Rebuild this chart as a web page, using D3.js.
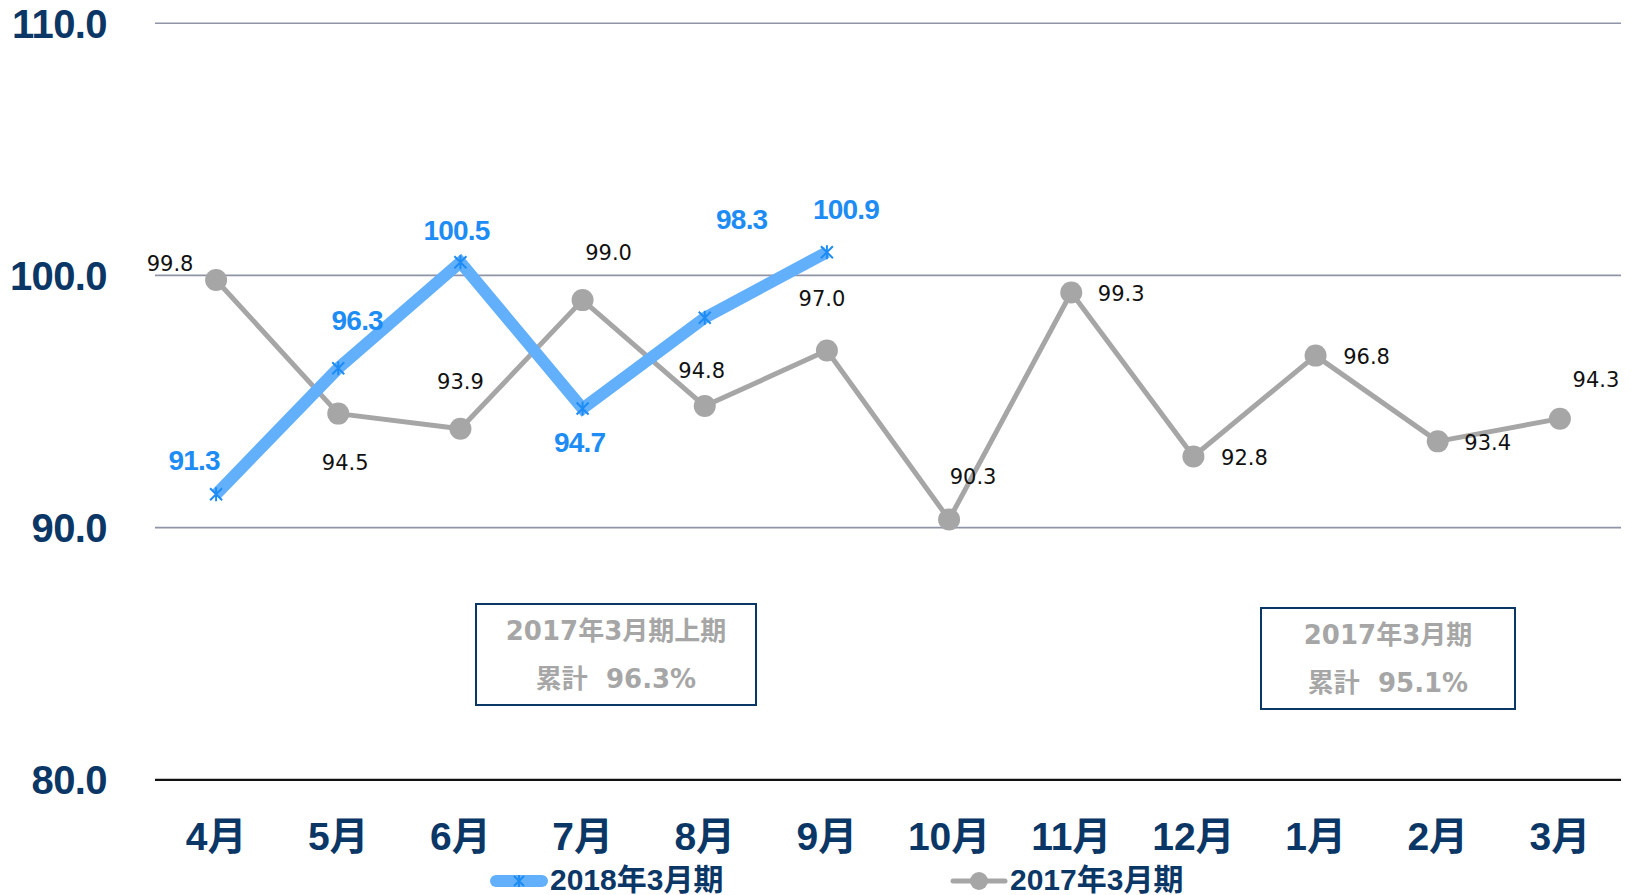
<!DOCTYPE html>
<html><head><meta charset="utf-8">
<script src="https://cdn.jsdelivr.net/npm/d3@7"></script>
<style>body{margin:0;background:#fff}svg{display:block}</style>
</head><body><svg id="c" width="1635" height="895"></svg>
<script>
const months = ["4月","5月","6月","7月","8月","9月","10月","11月","12月","1月","2月","3月"];
const series2018 = [91.3, 96.3, 100.5, 94.7, 98.3, 100.9];
const series2017 = [99.8, 94.5, 93.9, 99.0, 94.8, 97.0, 90.3, 99.3, 92.8, 96.8, 93.4, 94.3];
const yTicks = [80, 90, 100, 110];
const seriesNames = ["2018年3月期", "2017年3月期"];
const notes = [
  {lines: ["2017年3月期上期", "累計  96.3%"]},
  {lines: ["2017年3月期", "累計  95.1%"]}
];
// label offsets (px, relative to point)
const off2018 = [[-22,-34],[19,-48],[-4,-32],[-3,33],[37,-99],[19,-43]];
const off2017 = [[-46,-16],[7,49],[0,-47],[26,-47],[-3,-35],[-5,-52],[24,-43],[50,1],[51,1],[51,1],[50,1],[36,-39]];
const noteBoxes = [[476,604,280,101],[1261,608,254,101]];

const svg = d3.select("#c");
const navy = "#0b3767";
const x = d3.scaleBand().domain(months).range([155, 1621]).padding(0);
const cx = m => x(m) + x.bandwidth()/2;
const y = d3.scaleLinear().domain([80, 110]).range([779.3, 22.7]);

// gridlines
const grid = svg.append("g").attr("transform","translate(155,0)")
  .call(d3.axisLeft(y).tickValues(yTicks).tickSize(-1466).tickFormat(""));
grid.select(".domain").remove();
grid.selectAll(".tick line").attr("stroke", d => d === 80 ? "#111" : "#8f94a6")
  .attr("stroke-width", d => d === 80 ? 2.2 : 1.6);

// y labels
const ya = svg.append("g").attr("transform","translate(107,0)")
  .call(d3.axisLeft(y).tickValues(yTicks).tickSize(0).tickPadding(0).tickFormat(d3.format(".1f")));
ya.select(".domain").remove();
ya.selectAll("text").attr("fill", navy).attr("font-family","Liberation Sans, Arial, sans-serif")
  .attr("font-weight","bold").attr("font-size", 40).attr("letter-spacing", -0.6)
  .attr("text-anchor","end").attr("dy","0.36em");

// x labels
const xa = svg.append("g").attr("transform","translate(0,780)")
  .call(d3.axisBottom(x).tickSize(0).tickPadding(0));
xa.select(".domain").remove();
xa.selectAll("text").attr("fill", navy).attr("font-family","Liberation Sans, 'Noto Sans CJK JP', sans-serif")
  .attr("font-weight","bold").attr("font-size", 39).attr("y", 0).attr("dy", 70);

// 2017 line
const line = d3.line().x((d,i) => cx(months[i])).y(d => y(d));
svg.append("path").datum(series2017).attr("d", line).attr("fill","none")
  .attr("stroke","#a6a6a6").attr("stroke-width",5).attr("stroke-linejoin","round");
svg.selectAll("circle.g").data(series2017).join("circle").attr("class","g")
  .attr("cx",(d,i)=>cx(months[i])).attr("cy",d=>y(d)).attr("r",11).attr("fill","#a6a6a6");

// 2018 line
svg.append("path").datum(series2018).attr("d", line).attr("fill","none")
  .attr("stroke","#62b0fc").attr("stroke-width",12).attr("stroke-linejoin","miter");

function star(g, px, py, s) {
  const p = `M${px-s},${py-s}L${px+s},${py+s}M${px-s},${py+s}L${px+s},${py-s}M${px},${py-s-1}L${px},${py+s+1}`;
  g.append("path").attr("d", p).attr("stroke","#1e8cf5").attr("stroke-width",2).attr("fill","none");
}
const mk = svg.append("g");
series2018.forEach((d,i) => star(mk, cx(months[i]), y(d), 6));

// labels
svg.selectAll("text.l17").data(series2017).join("text").attr("class","l17")
  .attr("x",(d,i)=>cx(months[i])+off2017[i][0]).attr("y",(d,i)=>y(d)+off2017[i][1])
  .attr("text-anchor","middle").attr("dy","0.35em")
  .attr("font-family","DejaVu Sans, Verdana, sans-serif").attr("font-size",21).attr("fill","#111")
  .text(d=>d3.format(".1f")(d));
svg.selectAll("text.l18").data(series2018).join("text").attr("class","l18")
  .attr("x",(d,i)=>cx(months[i])+off2018[i][0]).attr("y",(d,i)=>y(d)+off2018[i][1])
  .attr("text-anchor","middle").attr("dy","0.36em")
  .attr("font-family","Liberation Sans, Arial, sans-serif").attr("font-weight","bold")
  .attr("font-size",28).attr("letter-spacing",-0.8).attr("fill","#1e8cf5")
  .text(d=>d3.format(".1f")(d));

// note boxes
notes.forEach((n,k) => {
  const [bx,by,bw,bh] = noteBoxes[k];
  svg.append("rect").attr("x",bx).attr("y",by).attr("width",bw).attr("height",bh)
    .attr("fill","#fff").attr("stroke",navy).attr("stroke-width",2);
  n.lines.forEach((t,j) => {
    svg.append("text").attr("x",bx+bw/2).attr("y",by+27+j*48).attr("dy","0.36em")
      .attr("text-anchor","middle").attr("font-family","DejaVu Sans, 'Noto Sans CJK JP', sans-serif")
      .attr("font-weight","bold").attr("font-size",26).attr("fill","#a6a6a6")
      .attr("xml:space","preserve").style("white-space","pre").text(t);
  });
});

// legend
const lg = svg.append("g");
lg.append("line").attr("x1",496).attr("x2",542).attr("y1",881).attr("y2",881)
  .attr("stroke","#62b0fc").attr("stroke-width",12).attr("stroke-linecap","round");
star(lg, 519, 881, 5);
lg.append("line").attr("x1",953).attr("x2",1005).attr("y1",881).attr("y2",881)
  .attr("stroke","#a6a6a6").attr("stroke-width",5).attr("stroke-linecap","round");
lg.append("circle").attr("cx",979).attr("cy",881).attr("r",9).attr("fill","#a6a6a6");
[[550,0],[1010,1]].forEach(([lx,k]) => {
  lg.append("text").attr("x",lx).attr("y",879).attr("dy","0.36em")
    .attr("font-family","Liberation Sans, 'Noto Sans CJK JP', sans-serif").attr("font-weight","bold")
    .attr("font-size",30).attr("fill",navy).text(seriesNames[k]);
});
</script></body></html>
